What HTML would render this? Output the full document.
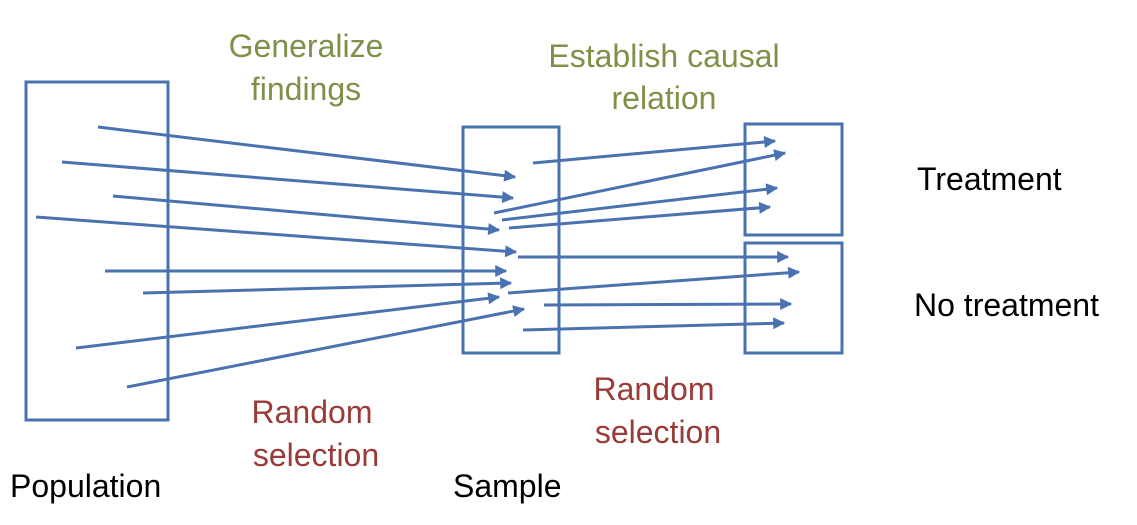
<!DOCTYPE html>
<html><head><meta charset="utf-8"><style>
html,body{margin:0;padding:0;background:#fff;}
svg{display:block}
text{font-family:"Liberation Sans",sans-serif;font-size:32px;}
</style></head><body>
<svg width="1137" height="525" viewBox="0 0 1137 525" xmlns="http://www.w3.org/2000/svg">
<defs>
<marker id="a" viewBox="0 0 10 10" refX="9" refY="5" markerWidth="4.5" markerHeight="4" orient="auto" markerUnits="strokeWidth">
<path d="M0,0 L10,5 L0,10 z" fill="#4a72b0"/>
</marker>
</defs>
<g fill="none" stroke="#4a72b0" stroke-width="3">
<rect x="26" y="82" width="142" height="338"/>
<rect x="463" y="127" width="96" height="226"/>
<rect x="745" y="124" width="97" height="111"/>
<rect x="745" y="243" width="97" height="110"/>
</g>
<g stroke="#4a72b0" stroke-width="3" marker-end="url(#a)">
<line x1="98" y1="127" x2="515" y2="177"/>
<line x1="62" y1="162" x2="513" y2="198"/>
<line x1="113" y1="196" x2="499" y2="230"/>
<line x1="36" y1="217" x2="516" y2="252"/>
<line x1="105" y1="271" x2="506" y2="271"/>
<line x1="143" y1="293" x2="511" y2="283"/>
<line x1="76" y1="348" x2="499" y2="297"/>
<line x1="127" y1="387" x2="524" y2="309"/>
<line x1="533" y1="163" x2="775" y2="141"/>
<line x1="494" y1="213" x2="785" y2="153"/>
<line x1="502" y1="220" x2="777" y2="188"/>
<line x1="509" y1="228" x2="770" y2="207"/>
<line x1="518" y1="257" x2="788" y2="257"/>
<line x1="508" y1="293" x2="799" y2="272"/>
<line x1="544" y1="305" x2="791" y2="304"/>
<line x1="523" y1="330" x2="784" y2="323"/>
</g>
<g fill="#7f9048" text-anchor="middle">
<text x="306" y="57">Generalize</text>
<text x="306" y="100">findings</text>
<text x="664" y="67">Establish causal</text>
<text x="664" y="109">relation</text>
</g>
<g fill="#9a3b38" text-anchor="middle">
<text x="312" y="423">Random</text>
<text x="316" y="466">selection</text>
<text x="654" y="400">Random</text>
<text x="658" y="443">selection</text>
</g>
<g fill="#000">
<text x="10" y="497">Population</text>
<text x="453" y="497">Sample</text>
<text x="917" y="190">Treatment</text>
<text x="914" y="316">No treatment</text>
</g>
</svg>
</body></html>
